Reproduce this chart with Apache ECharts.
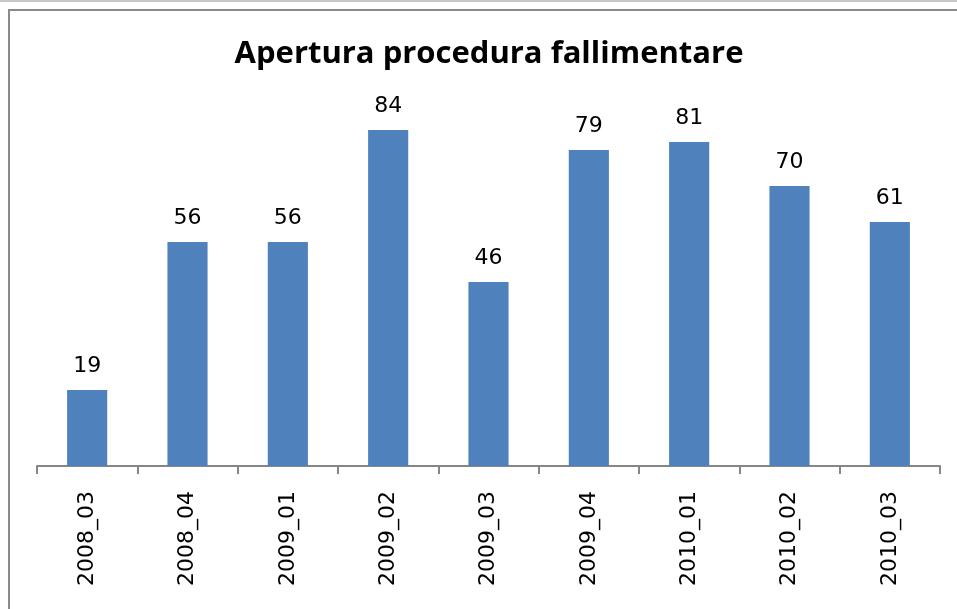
<!DOCTYPE html>
<html>
<head>
<meta charset="utf-8">
<script src="https://cdn.jsdelivr.net/npm/echarts@6/dist/echarts.min.js"></script>
<style>
html,body{margin:0;padding:0;background:#fff;}
#wrap{position:relative;width:957px;height:609px;overflow:hidden;background:#fff;}
#topline{position:absolute;left:0;top:0;width:957px;height:2px;background:#c8c8c8;}
#frame{position:absolute;left:8px;top:9px;width:960px;height:620px;border-left:2px solid #8a8a8a;border-top:2px solid #8a8a8a;box-sizing:border-box;}
#chart{position:absolute;left:0;top:0;width:957px;height:609px;}
</style>
</head>
<body>
<div id="wrap">
<div id="topline"></div>
<div id="frame"></div>
<div id="chart"></div>
</div>
<script>
const categories = ['2008_03','2008_04','2009_01','2009_02','2009_03','2009_04','2010_01','2010_02','2010_03'];
const values = [19, 56, 56, 84, 46, 79, 81, 70, 61];
const titleText = 'Apertura procedura fallimentare';

const chart = echarts.init(document.getElementById('chart'), null, {renderer: 'canvas'});
chart.setOption({
  animation: false,
  backgroundColor: 'transparent',
  title: {
    text: titleText,
    left: 484,
    textAlign: 'center',
    top: 34,
    textStyle: {fontFamily: 'Open Sans', fontWeight: 'bold', fontSize: 31, color: '#000'}
  },
  grid: {left: 37, right: 17, top: 66, bottom: 143, containLabel: false},
  xAxis: {
    type: 'category',
    data: categories,
    boundaryGap: true,
    axisLine: {lineStyle: {color: '#868686', width: 2}},
    axisTick: {show: true, length: 8, alignWithLabel: false, lineStyle: {color: '#868686', width: 2}},
    axisLabel: {rotate: 90, margin: 25, fontFamily: 'DejaVu Sans', fontSize: 22, color: '#000', interval: 0}
  },
  yAxis: {
    type: 'value',
    min: 0,
    max: 100,
    show: false,
    splitLine: {show: false}
  },
  series: [{
    type: 'bar',
    data: values,
    barWidth: '40%',
    itemStyle: {color: '#4F81BD'},
    label: {show: true, position: 'top', distance: 13, fontFamily: 'DejaVu Sans', fontSize: 22, color: '#000'}
  }]
});
</script>
</body>
</html>
